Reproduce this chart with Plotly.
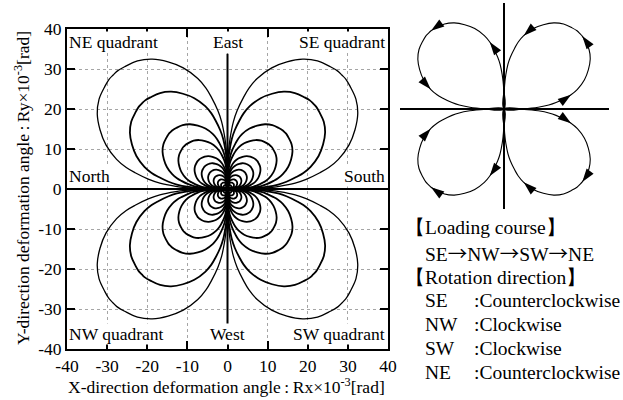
import numpy as np
import plotly.graph_objects as go

W, H = 623, 400

# ---- data ----
# petal profile: normalized radius vs angle (deg) within one quadrant (first half, mirrored about 45 deg)
PROFILE_ANGLE_HALF = [0, 1, 2, 3, 5, 7, 10, 12, 15, 20, 25, 30, 35, 40, 43, 45]
PROFILE_RADIUS_HALF = [0, 0.19, 0.26, 0.32, 0.42, 0.49, 0.58, 0.64, 0.71, 0.80, 0.87, 0.93, 0.97, 0.99, 1.00, 1.00]
# loop amplitudes (diagonal extent, x10^-3 rad)
LOOP_AMPLITUDES = [40.3, 30.2, 20.1, 15.2, 10.2, 8.0, 6.0, 4.3, 3.0, 2.0, 1.2]
X_TICKS = [-40, -30, -20, -10, 0, 10, 20, 30, 40]
Y_TICKS = [-40, -30, -20, -10, 0, 10, 20, 30, 40]
TICK_TEXT = ["-40", "-30", "-20", "-10", "0", "10", "20", "30", "40"]
DIVIDER_Y = [-33.8, 33.8]
DIVIDER_X = [0, 0]
LABEL_TEXT = ["NE quadrant", "East", "SE quadrant", "North", "South", "NW quadrant", "West", "SW quadrant"]
LABEL_X = [-40, 0, 40, -40, 40, -40, 0, 40]
LABEL_Y = [36.7, 36.7, 36.7, 3.3, 3.3, -36.3, -36.3, -36.3]
# schematic loops: start angle and direction of travel per quadrant
SCHEM_NAMES = ["SE", "NE", "NW", "SW"]
SCHEM_START = [0, 90, 270, 360]
SCHEM_DIR = [1, 1, -1, -1]
ARROW_OFFSETS = [12, 43, 75]
# notes on the right
ARROW_SPAN = '<span style="font-family:\'Noto Sans CJK JP\'">→</span>'
NOTE_HEAD = ["【Loading course】", ARROW_SPAN.join(["SE", "NW", "SW", "NE"]), "【Rotation direction】"]
ROT_QUAD = ["SE", "NW", "SW", "NE"]
ROT_DIR = ["Counterclockwise", "Clockwise", "Clockwise", "Counterclockwise"]

FONT = "Liberation Serif"

ang = PROFILE_ANGLE_HALF + [90 - a for a in reversed(PROFILE_ANGLE_HALF[:-1])]
rad = PROFILE_RADIUS_HALF + list(reversed(PROFILE_RADIUS_HALF[:-1]))
ang = np.array(ang, dtype=float)
rad = np.array(rad, dtype=float)

fig = go.Figure()

# main loops
for i, A in enumerate(LOOP_AMPLITUDES):
    xs, ys = [], []
    for q in range(4):
        th = np.radians(90 * q + ang)
        xs += list(A * rad * np.cos(th)) + [None]
        ys += list(A * rad * np.sin(th)) + [None]
    fig.add_trace(go.Scatter(x=xs, y=ys, mode="lines", line=dict(color="black", width=1.3 if i == 0 else 1.8, shape="spline"),
                             hoverinfo="skip", showlegend=False))

fig.add_trace(go.Scatter(x=DIVIDER_X, y=DIVIDER_Y, mode="lines", line=dict(color="black", width=2), showlegend=False))

# schematic
for s, d in zip(SCHEM_START, SCHEM_DIR):
    th = np.radians(s + d * ang)
    px = rad * np.cos(th)
    py = rad * np.sin(th)
    fig.add_trace(go.Scatter(x=px, y=py, xaxis="x2", yaxis="y2", mode="lines",
                             line=dict(color="black", width=1.1, shape="spline"), showlegend=False))
    ax, ay, aa = [], [], []
    for off in ARROW_OFFSETS:
        k = int(np.where(ang == off)[0][0])
        ax.append(px[k]); ay.append(py[k])
        dx = px[k + 1] - px[k - 1]
        dy = py[k + 1] - py[k - 1]
        aa.append(float(np.degrees(np.arctan2(dx, dy))))
    fig.add_trace(go.Scatter(x=ax, y=ay, xaxis="x2", yaxis="y2", mode="markers",
                             marker=dict(symbol="arrow", size=14, angle=aa, color="black", line=dict(width=0)),
                             showlegend=False))

def fx(p):
    return p / W

def fy(p):
    return 1 - p / H

annots = []
for t, x, y in zip(LABEL_TEXT, LABEL_X, LABEL_Y):
    xa = "left" if x < 0 else ("right" if x > 0 else "center")
    annots.append(dict(text=t, x=x, y=y, xref="x", yref="y", xanchor=xa, yanchor="middle", showarrow=False,
                       xshift=1 if x < 0 else (-2 if x > 0 else 0),
                       font=dict(family=FONT, size=17.5, color="black"), bgcolor="white", borderpad=0))

annots.append(dict(text="X-direction deformation angle\u2009:\u2009Rx×10<sup>-3</sup>[rad]", x=fx(226), y=fy(386),
                   xref="paper", yref="paper", xanchor="center", yanchor="middle", showarrow=False,
                   font=dict(family=FONT, size=17.5, color="black")))
annots.append(dict(text="Y-direction deformation angle\u2009:\u2009Ry×10<sup>-3</sup>[rad]", x=fx(22), y=fy(188),
                   xref="paper", yref="paper", xanchor="center", yanchor="middle", showarrow=False, textangle=-90,
                   font=dict(family=FONT, size=17.5, color="black")))

NOTE_SIZE = 19.5
head_x = [403, 423, 403]
head_y = [228, 253, 277]
for t, x, y in zip(NOTE_HEAD, head_x, head_y):
    annots.append(dict(text=t, x=fx(x), y=fy(y), xref="paper", yref="paper", xanchor="left", yanchor="middle",
                       showarrow=False, font=dict(family=FONT, size=NOTE_SIZE, color="black")))
row_y = [300, 324, 348, 372]
for q, dtxt, y in zip(ROT_QUAD, ROT_DIR, row_y):
    annots.append(dict(text=q, x=fx(423), y=fy(y), xref="paper", yref="paper", xanchor="left", yanchor="middle",
                       showarrow=False, font=dict(family=FONT, size=NOTE_SIZE, color="black")))
    annots.append(dict(text=":" + dtxt, x=fx(472), y=fy(y), xref="paper", yref="paper", xanchor="left", yanchor="middle",
                       showarrow=False, font=dict(family=FONT, size=NOTE_SIZE, color="black")))

axis_common = dict(showline=True, linecolor="black", linewidth=2, mirror="allticks", ticks="inside", ticklen=8,
                   tickwidth=1.5, tickcolor="black", showgrid=True, gridcolor="#a5a5a5", gridwidth=1,
                   griddash="3px,3px", tickfont=dict(family=FONT, size=17.5, color="black"), automargin=False)

fig.update_layout(
    width=W, height=H, margin=dict(l=0, r=0, t=0, b=0, autoexpand=False), paper_bgcolor="white", plot_bgcolor="white",
    xaxis=dict(domain=[fx(67), fx(388)], range=[-40, 40], tickvals=X_TICKS, ticktext=TICK_TEXT, zeroline=False,
               **axis_common),
    yaxis=dict(domain=[fy(349), fy(29)], range=[-40, 40], tickvals=Y_TICKS, ticktext=TICK_TEXT, zeroline=True,
               zerolinecolor="black", zerolinewidth=2, **axis_common),
    xaxis2=dict(domain=[fx(400), fx(609)], range=[-0.972, 0.981], showgrid=False, showticklabels=False, ticks="",
                zeroline=True, zerolinecolor="black", zerolinewidth=1.5, showline=False, anchor="y2"),
    yaxis2=dict(domain=[fy(209), fy(3)], range=[-0.935, 0.991], showgrid=False, showticklabels=False, ticks="",
                zeroline=True, zerolinecolor="black", zerolinewidth=1.5, showline=False, anchor="x2"),
    annotations=annots,
    showlegend=False,
)

fig.write_html("out.html")
